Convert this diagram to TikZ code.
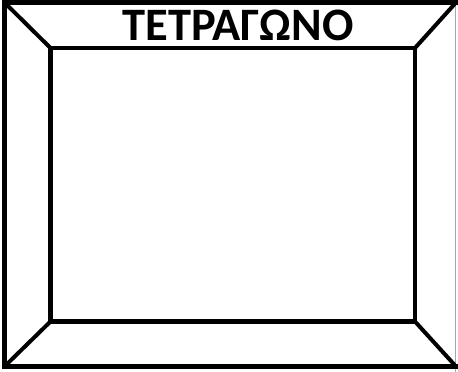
\documentclass[tikz,border=0pt]{standalone}
\usepackage{fontspec}
\setmainfont{Carlito}
\begin{document}
\begin{tikzpicture}[x=1pt,y=-1pt,
  thick line/.style={line width=4.6pt,line cap=rect,black},
  diag/.style={line width=4pt,black},
  title/.style={font=\bfseries\fontsize{46.5}{50}\selectfont,inner sep=0pt,anchor=base}]
\useasboundingbox (0,0) rectangle (458,372);
\fill[white] (0,0) rectangle (458,372);
% outer corners
\coordinate (o1) at (4.5,2.5);
\coordinate (o2) at (456,2.5);
\coordinate (o3) at (456,366.5);
\coordinate (o4) at (4.5,366.5);
% inner corners
\coordinate (i1) at (50.5,48);
\coordinate (i2) at (415,48);
\coordinate (i3) at (415,321.5);
\coordinate (i4) at (50.5,321.5);
\draw[gray!70,line width=1pt] (455.8,0) -- (455.8,372);
\draw[diag] (o1) -- (i1);
\draw[diag] (o2) -- (i2);
\draw[diag] (o3) -- (i3);
\draw[diag] (o4) -- (i4);
\draw[thick line] (o3) -- (o4) -- (o1) -- (o2);
\draw[thick line,line cap=butt,line join=miter] (i1) -- (i2) -- (i3) -- (i4) -- cycle;
\node[title] (t) at (238,40) {ΤΕΤΡΑΓΩΝΟ};
\end{tikzpicture}
\end{document}
